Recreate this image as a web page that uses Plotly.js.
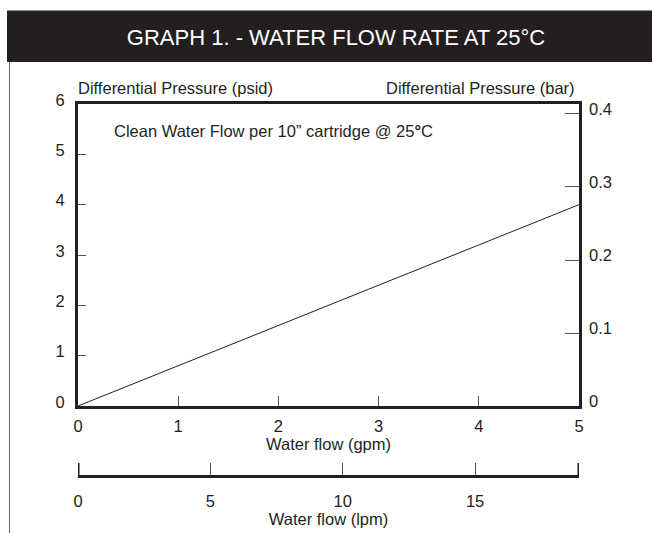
<!DOCTYPE html>
<html>
<head>
<meta charset="utf-8">
<script src="https://cdn.plot.ly/plotly-3.0.1.min.js"></script>
<style>html,body{margin:0;padding:0;background:#fff;}#chart{width:652px;height:533px;}</style>
</head>
<body>
<div id="chart"></div>
<script>
// Data
const flowGpm = [0, 5];
const pressurePsid = [0, 4];
const gpmTicks = [0, 1, 2, 3, 4, 5];
const psidTicks = [0, 1, 2, 3, 4, 5, 6];
const barTicks = [0, 0.1, 0.2, 0.3, 0.4];
const lpmTicks = [0, 5, 10, 15];
const PSI_PER_BAR = 14.5038;
const LPM_PER_GPM = 3.78541;

const ink = '#231f20';
const font = {family: '"Liberation Sans", Arial, Helvetica, sans-serif', size: 16.5, color: ink};

const gpmMax = 5, psiMax = 6;
const lpmMax = gpmMax * LPM_PER_GPM;

const traces = [
  {x: flowGpm, y: pressurePsid, mode: 'lines', line: {color: ink, width: 1}, xaxis: 'x', yaxis: 'y', hoverinfo: 'skip'},
  {x: flowGpm.map(v => v * LPM_PER_GPM), y: pressurePsid, mode: 'lines', line: {width: 0}, opacity: 0, xaxis: 'x2', yaxis: 'y', hoverinfo: 'skip'},
  {x: flowGpm, y: pressurePsid.map(v => v / PSI_PER_BAR), mode: 'lines', line: {width: 0}, opacity: 0, xaxis: 'x', yaxis: 'y2', hoverinfo: 'skip'}
];

const W = 652, H = 533;
const px = v => v / W, py = v => 1 - v / H;

const layout = {
  width: W, height: H,
  margin: {l: 0, r: 0, t: 0, b: 0},
  paper_bgcolor: '#fff', plot_bgcolor: '#fff',
  showlegend: false,
  font: font,
  title: {text: 'GRAPH 1. - WATER FLOW RATE AT 25°C', font: {family: font.family, size: 22, color: '#ffffff'},
          x: px(336), xanchor: 'center', y: py(37), yanchor: 'middle', xref: 'paper', yref: 'paper'},
  xaxis: {
    domain: [px(78), px(579)], range: [0, gpmMax], tickvals: gpmTicks,
    ticks: 'inside', ticklen: 10, tickwidth: 1, tickcolor: '#555',
    showline: true, mirror: true, linewidth: 3, linecolor: ink,
    showgrid: false, zeroline: false, ticklabelstandoff: 3,
    tickfont: font, anchor: 'y',
    title: {text: 'Water flow (gpm)', font: font, standoff: 4}
  },
  xaxis2: {
    overlaying: 'x', anchor: 'free', position: py(476), side: 'bottom',
    range: [0, lpmMax], tickvals: lpmTicks,
    ticks: 'inside', ticklen: 12, tickwidth: 1, tickcolor: '#555',
    showline: true, linewidth: 3, linecolor: ink,
    showgrid: false, zeroline: false, ticklabelstandoff: 9,
    tickfont: font,
    title: {text: 'Water flow (lpm)', font: font, standoff: 4}
  },
  yaxis: {
    domain: [py(406), py(104)], range: [0, psiMax], tickvals: psidTicks,
    ticks: 'inside', ticklen: 8, tickwidth: 1, tickcolor: '#555',
    showline: true, mirror: true, linewidth: 3, linecolor: ink,
    showgrid: false, zeroline: false, ticklabelstandoff: 7, ticklabelshift: -4,
    tickfont: font, anchor: 'x'
  },
  yaxis2: {
    overlaying: 'y', side: 'right', anchor: 'x',
    range: [0, psiMax / PSI_PER_BAR], tickvals: barTicks,
    ticks: 'inside', ticklen: 14, tickwidth: 1, tickcolor: '#555',
    showline: false, showgrid: false, zeroline: false,
    ticklabelstandoff: 9, ticklabelshift: -5,
    tickfont: font
  },
  shapes: [
    {type: 'rect', xref: 'paper', yref: 'paper', x0: px(7), x1: 1, y0: py(62), y1: py(10.5),
     fillcolor: ink, line: {width: 0}, layer: 'below'},
    {type: 'line', xref: 'paper', yref: 'paper', x0: px(9.5), x1: px(9.5), y0: 0, y1: py(62),
     line: {color: '#666', width: 1}},
    {type: 'line', xref: 'x2', yref: 'paper', x0: 0, x1: 0, y0: py(476), y1: py(463),
     line: {color: ink, width: 3}},
    {type: 'line', xref: 'x2', yref: 'paper', x0: lpmMax, x1: lpmMax, y0: py(476), y1: py(463),
     line: {color: ink, width: 3}}
  ],
  annotations: [
    {text: 'Differential Pressure (psid)', xref: 'paper', yref: 'paper', x: px(76), y: py(88),
     xanchor: 'left', yanchor: 'middle', showarrow: false, font: font},
    {text: 'Differential Pressure (bar)', xref: 'paper', yref: 'paper', x: px(577), y: py(88),
     xanchor: 'right', yanchor: 'middle', showarrow: false, font: font},
    {text: 'Clean Water Flow per 10” cartridge @ 25<b>°</b>C', xref: 'paper', yref: 'paper', x: px(112), y: py(131),
     xanchor: 'left', yanchor: 'middle', showarrow: false, font: font}
  ]
};

Plotly.newPlot('chart', traces, layout, {staticPlot: true, displayModeBar: false});
</script>
</body>
</html>
